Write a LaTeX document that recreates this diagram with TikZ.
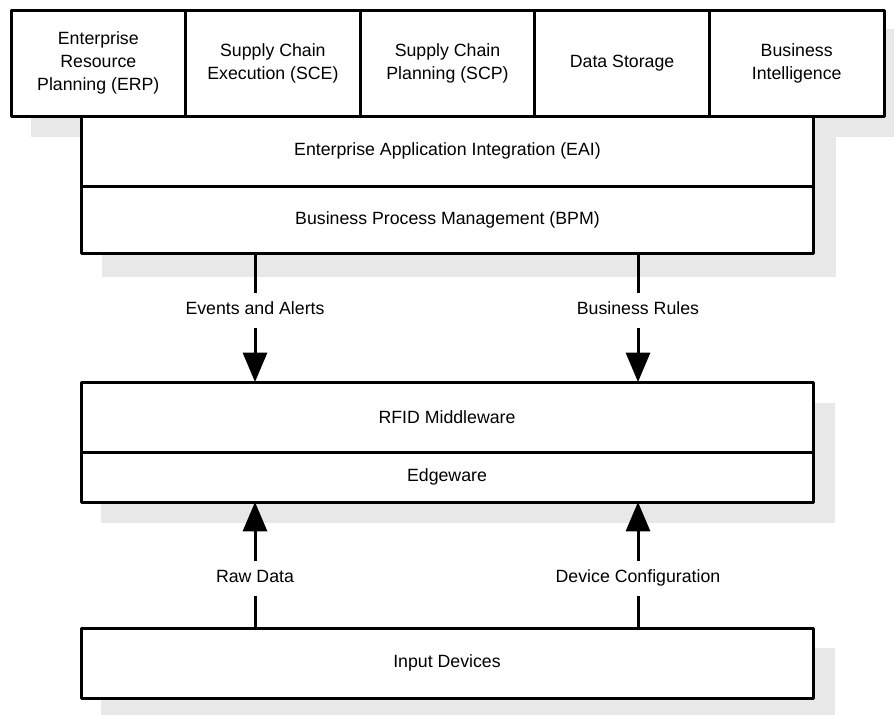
\documentclass[tikz,border=0pt]{standalone}
\usepackage{fontspec}
\setmainfont{Liberation Sans}
\usetikzlibrary{positioning, arrows.meta, backgrounds}
\definecolor{shadowgray}{RGB}{232,232,232}
\tikzstyle{app} = [rectangle, minimum width=130.95pt, minimum height=79.5pt, align=center, draw=black, fill=white, outer sep=0pt]
\tikzstyle{layer} = [rectangle, minimum width=549pt, minimum height=52.5pt, text centered, draw=black, fill=white, outer sep=0pt]
\tikzstyle{flowlabel} = [inner xsep=2pt, inner ysep=5.8pt, text height=9.6pt, text depth=2.8pt]
\tikzstyle{line} = [line width=2.25pt]
\tikzstyle{arrow} = [line width=2.25pt, -{Triangle[width=18pt,length=22pt]}]
\tikzstyle{boxshadow} = [fill=shadowgray]

\begin{document}
\begin{tikzpicture}[x=0.75pt, y=-0.75pt, line width=2.25pt, line join=round,
    font=\fontsize{13.3}{17.3}\selectfont]
    \useasboundingbox (0,0) rectangle (894,715);

    % applications
    \node (erp) [app] at (98.3,63)      {Enterprise\\Resource\\Planning (ERP)};
    \node (sce) [app, right=0pt of erp] {Supply Chain\\Execution (SCE)};
    \node (scp) [app, right=0pt of sce] {Supply Chain\\Planning (SCP)};
    \node (ds)  [app, right=0pt of scp] {Data Storage};
    \node (bi)  [app, right=0pt of ds]  {Business\\Intelligence};

    % integration layers
    \node (eai)  [layer, below=0pt of scp]                        {Enterprise Application Integration (EAI)};
    \node (bpm)  [layer, below=0pt of eai, minimum height=50.25pt] {Business Process Management (BPM)};
    \node (rfid) [layer] at (447,417)                              {RFID Middleware};
    \node (edge) [layer, below=0pt of rfid, minimum height=37.5pt] {Edgeware};
    \node (inp)  [layer] at (447,663)                              {Input Devices};

    % flow labels
    \node (evlbl)  [flowlabel] at (255,310) {Events and Alerts};
    \node (brlbl)  [flowlabel] at (638,310) {Business Rules};
    \node (rawlbl) [flowlabel] at (255,578) {Raw Data};
    \node (cfglbl) [flowlabel] at (638,578) {Device Configuration};

    \draw [line]  (bpm.south -| evlbl)  -- (evlbl);
    \draw [arrow] (evlbl)  -- (rfid.north -| evlbl);
    \draw [line]  (bpm.south -| brlbl)  -- (brlbl);
    \draw [arrow] (brlbl)  -- (rfid.north -| brlbl);
    \draw [line]  (inp.north -| rawlbl) -- (rawlbl);
    \draw [arrow] (rawlbl) -- (edge.south -| rawlbl);
    \draw [line]  (inp.north -| cfglbl) -- (cfglbl);
    \draw [arrow] (cfglbl) -- (edge.south -| cfglbl);

    % shadows
    \begin{scope}[on background layer]
      \clip (0,0) rectangle (894,715);
      \fill [boxshadow] ([shift={(20,19)}]erp.north west)  rectangle ([shift={(20,21)}]bi.south east);
      \fill [boxshadow] ([shift={(20,21)}]eai.north west)  rectangle ([shift={(22,24)}]bpm.south east);
      \fill [boxshadow] ([shift={(20,21)}]rfid.north west) rectangle ([shift={(22,21)}]edge.south east);
      \fill [boxshadow] ([shift={(20,20)}]inp.north west)  rectangle ([shift={(22,21)}]inp.south east);
    \end{scope}
\end{tikzpicture}
\end{document}
